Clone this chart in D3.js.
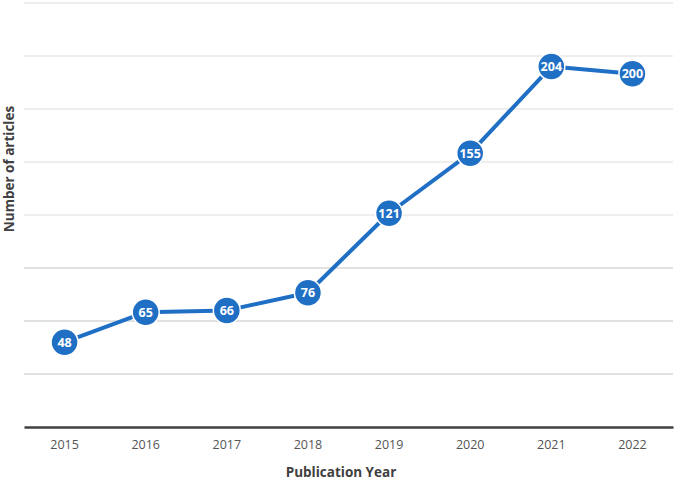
<!DOCTYPE html>
<html><head><meta charset="utf-8">
<script src="https://cdn.jsdelivr.net/npm/d3@7"></script>
<style>body{margin:0;background:#fff;} svg{display:block;font-family:"Open Sans",sans-serif;}</style>
</head><body>
<svg id="c" width="677" height="481"></svg>
<script>
const years = ["2015","2016","2017","2018","2019","2020","2021","2022"];
const articles = [48, 65, 66, 76, 121, 155, 204, 200];
const yTicks = [30, 60, 90, 120, 150, 180, 210, 240];

const svg = d3.select("#c");
const x = d3.scaleBand().domain(years).range([24, 673]);
const y = d3.scaleLinear().domain([0, 240]).range([427, 3]);

// gridlines
svg.append("g").selectAll("line").data(yTicks).join("line")
  .attr("x1", 24).attr("x2", 673)
  .attr("y1", d => y(d)).attr("y2", d => y(d))
  .attr("stroke", d => d <= 90 ? "#c4c4c4" : "#dedede").attr("stroke-width", 1.2);

// baseline axis
const xAxis = svg.append("g").attr("transform", "translate(0,427)")
  .call(d3.axisBottom(x).tickSize(0).tickPadding(13));
xAxis.select(".domain").attr("stroke", "#404040").attr("stroke-width", 2.5);
xAxis.selectAll("text").attr("font-size", 12.5).attr("fill", "#555")
  .attr("font-family", "Open Sans, sans-serif");

// line
const cx = d => x(d) + x.bandwidth() / 2;
svg.append("path").datum(years.map((yr, i) => [yr, articles[i]]))
  .attr("fill", "none").attr("stroke", "#1f6fc5").attr("stroke-width", 4)
  .attr("stroke-linejoin", "round")
  .attr("d", d3.line().x(d => cx(d[0])).y(d => y(d[1])));

// markers
const pts = svg.append("g").selectAll("g").data(years.map((yr, i) => [yr, articles[i]])).join("g")
  .attr("transform", d => `translate(${cx(d[0])},${y(d[1])})`);
pts.append("circle").attr("r", 13.5).attr("fill", "#1f6fc5").attr("stroke", "#fff").attr("stroke-width", 1.5);
pts.append("text").text(d => d[1]).attr("text-anchor", "middle").attr("dy", "0.36em")
  .attr("fill", "#fff").attr("font-weight", "bold").attr("font-size", 12.5);

// axis titles
svg.append("text").attr("x", 341).attr("y", 477).attr("text-anchor", "middle")
  .attr("font-size", 13.5).attr("font-weight", "bold").attr("fill", "#404040").text("Publication Year");
svg.append("text").attr("transform", "translate(14,169) rotate(-90)").attr("text-anchor", "middle")
  .attr("font-size", 13.5).attr("font-weight", "bold").attr("fill", "#404040").text("Number of articles");
</script>
</body></html>
